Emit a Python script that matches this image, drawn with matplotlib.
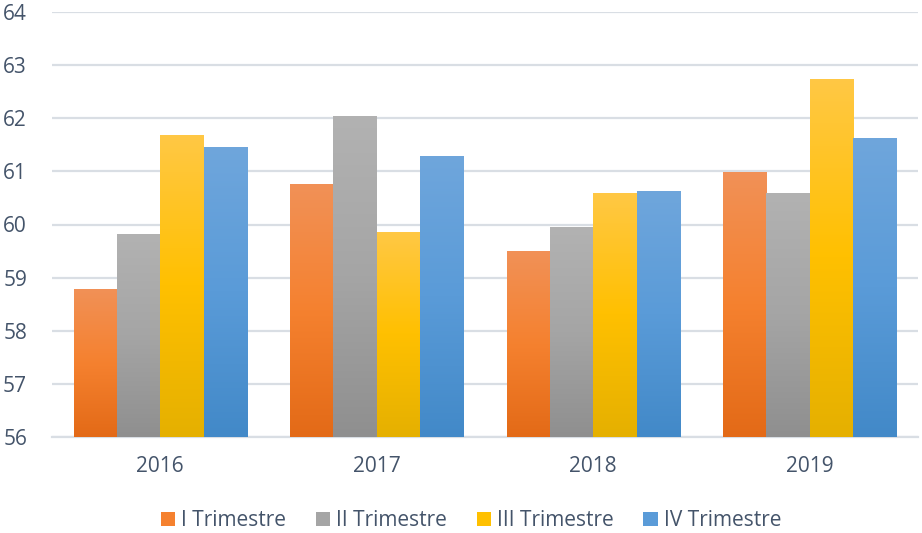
import numpy as np
import matplotlib.pyplot as plt
from matplotlib.colors import LinearSegmentedColormap
from matplotlib.patches import Patch

# dati
anni = ['2016', '2017', '2018', '2019']
serie = ['I Trimestre', 'II Trimestre', 'III Trimestre', 'IV Trimestre']
t1 = [58.79, 60.76, 59.50, 60.99]
t2 = [59.82, 62.05, 59.95, 60.60]
t3 = [61.69, 59.86, 60.60, 62.74]
t4 = [61.46, 61.29, 60.63, 61.63]
valori = [t1, t2, t3, t4]

# colori gradiente (alto, medio, basso)
grad = [
    ('#F19157', '#F5812F', '#E36A17'),
    ('#B2B2B2', '#A5A5A5', '#8F8F8F'),
    ('#FFC845', '#FFC000', '#E5B000'),
    ('#6FA6DC', '#5A9BD8', '#4289C8'),
]

plt.rcParams['font.family'] = ['Open Sans', 'DejaVu Sans']
fig = plt.figure(figsize=(9.22, 5.33), dpi=100)
ax = fig.add_axes([52/922, 1-437/533, 866/922, 425/533])

ymin = 56
larg = 0.2
x = np.arange(len(anni))
for i, (vals, g) in enumerate(zip(valori, grad)):
    cmap = LinearSegmentedColormap.from_list('g%d' % i, [g[2], g[1], g[0]])
    pos = x - 0.3 + i * larg
    bars = ax.bar(pos, np.array(vals) - ymin, larg, bottom=ymin, color=g[1], zorder=2)
    for b in bars:
        x0, y0 = b.get_x(), b.get_y()
        w, h = b.get_width(), b.get_height()
        img = ax.imshow(np.linspace(0, 1, 256).reshape(-1, 1), cmap=cmap,
                        origin='lower', extent=(x0, x0 + w, y0, y0 + h),
                        aspect='auto', zorder=3)
        img.set_clip_path(b)

ax.set_xlim(-0.5, 3.5)
ax.set_ylim(56, 64)
ax.set_yticks(range(56, 65))
ax.set_xticks(x)
ax.set_xticklabels(anni)
ax.grid(axis='y', color='#D9DEE4', linewidth=1.6, zorder=0)
for s in ['top', 'right', 'left']:
    ax.spines[s].set_visible(False)
ax.spines['bottom'].set_color('#D9DEE4')
ax.spines['bottom'].set_linewidth(1.6)
ax.tick_params(length=0, colors='#44546A', labelsize=15)
ax.tick_params(axis='y', pad=18)
ax.tick_params(axis='x', pad=14)

handles = [Patch(facecolor=g[1]) for g in grad]
fig.legend(handles, serie, loc='lower center', bbox_to_anchor=(0.511, -0.032),
           ncol=4, frameon=False, fontsize=15, labelcolor='#44546A',
           handlelength=0.7, handleheight=0.7, handletextpad=0.3,
           columnspacing=1.4)

fig.savefig('out.png', dpi=100)
